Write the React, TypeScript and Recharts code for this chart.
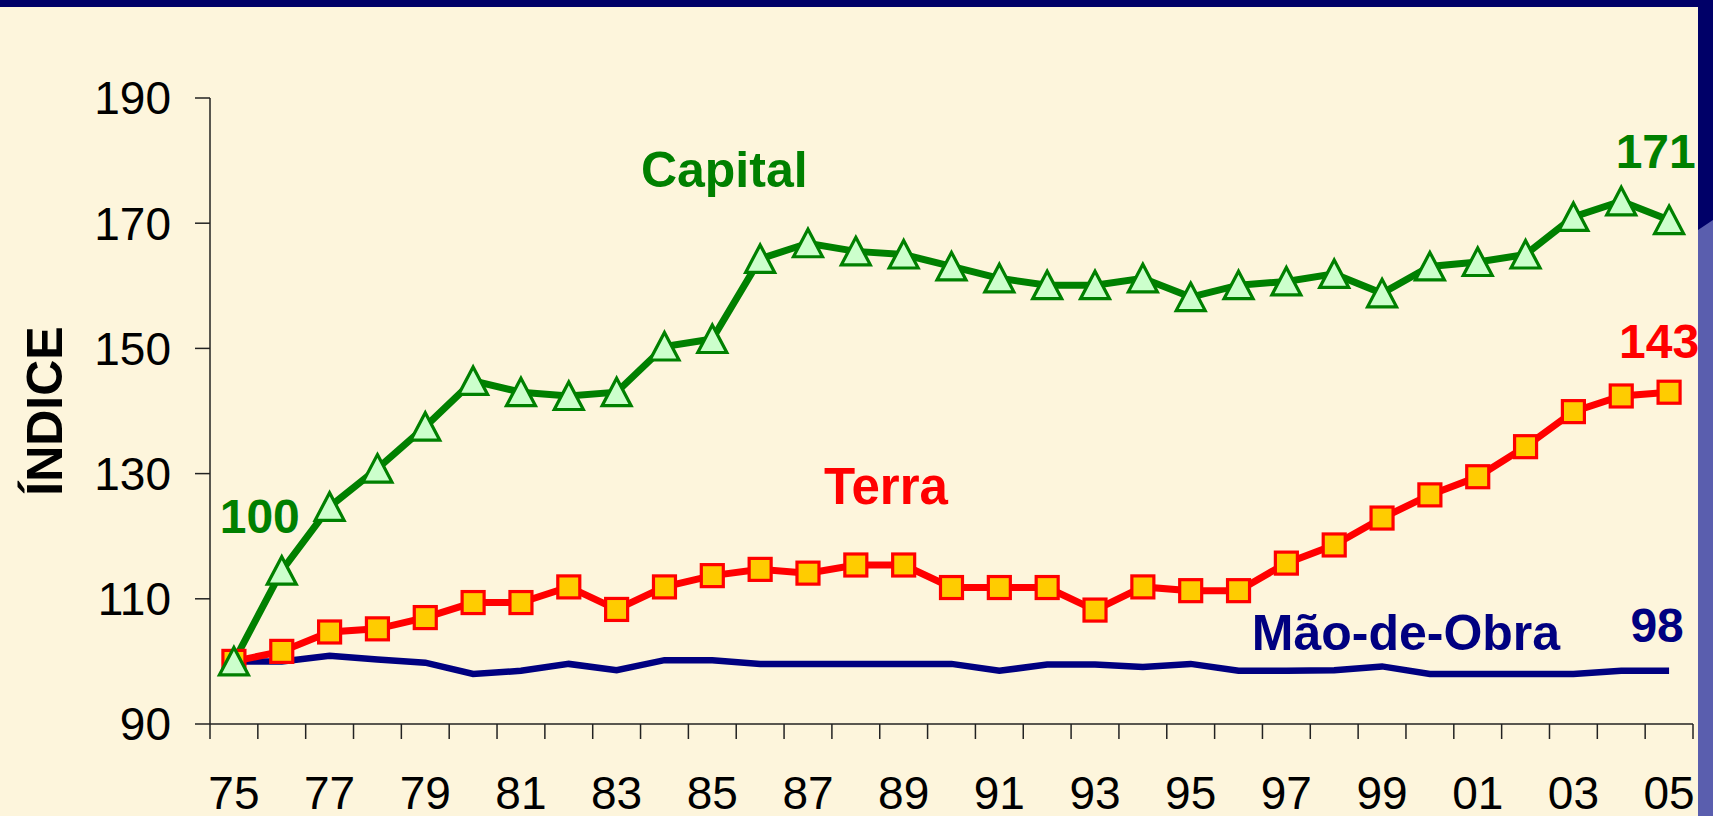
import React from 'react';
import { LineChart, Line, XAxis, YAxis, ReferenceDot } from 'recharts';

const years = ['75','76','77','78','79','80','81','82','83','84','85','86','87','88','89','90','91','92','93','94','95','96','97','98','99','00','01','02','03','04','05'];
const capital = [100, 114.5, 124.7, 130.8, 137.5, 144.8, 143.0, 142.4, 143.0, 150.3, 151.5, 164.3, 166.8, 165.5, 165.0, 163.1, 161.2, 160.1, 160.1, 161.2, 158.2, 160.1, 160.7, 161.9, 158.8, 163.1, 163.8, 165.0, 171.0, 173.5, 170.5];
const terra = [100, 101.6, 104.7, 105.2, 107.0, 109.4, 109.4, 111.9, 108.3, 111.9, 113.7, 114.7, 114.1, 115.4, 115.4, 111.8, 111.8, 111.8, 108.2, 111.9, 111.3, 111.3, 115.7, 118.6, 122.9, 126.6, 129.5, 134.3, 139.9, 142.4, 143.0];
const maoDeObra = [100, 100, 100.9, 100.3, 99.8, 98.0, 98.5, 99.6, 98.6, 100.2, 100.2, 99.6, 99.6, 99.6, 99.6, 99.6, 98.5, 99.5, 99.5, 99.1, 99.6, 98.5, 98.5, 98.6, 99.2, 98.0, 98.0, 98.0, 98.0, 98.5, 98.5];
const yTicks = [90, 110, 130, 150, 170, 190];
const labelTickIdx = [0, 2, 4, 6, 8, 10, 12, 14, 16, 18, 20, 22, 24, 26, 28, 30];
const boundaryTicks = years.map((_, i) => i - 0.5).concat([years.length - 0.5]);

// annotation anchors in data units (x = year index, y = index value at text baseline)
const annotations = [
  { text: 'Capital', x: 10.25, y: 175.8, color: '#008000', size: 50 },
  { text: 'Terra', x: 13.63, y: 125.1, color: '#FF0000', size: 51 },
  { text: 'Mão-de-Obra', x: 24.5, y: 101.8, color: '#000080', size: 50 },
  { text: '100', x: 0.54, y: 120.5, color: '#008000', size: 48 },
  { text: '171', x: 29.72, y: 178.8, color: '#008000', size: 48 },
  { text: '143', x: 29.79, y: 148.5, color: '#FF0000', size: 48 },
  { text: '98', x: 29.75, y: 103.1, color: '#000080', size: 48 },
];

const data = years.map((y, i) => ({ x: i, year: y, capital: capital[i], terra: terra[i], mao: maoDeObra[i] }));

const FONT = '"Liberation Sans", Arial, sans-serif';

const Triangle = (props: any) => {
  const { cx, cy, index } = props;
  if (cx == null || cy == null) return <g key={'t' + index} />;
  const pts = `${cx},${cy - 14} ${cx + 14.5},${cy + 13.5} ${cx - 14.5},${cy + 13.5}`;
  return <polygon key={'t' + index} points={pts} fill="#CCFFCC" stroke="#008000" strokeWidth={3.2} strokeLinejoin="miter" />;
};

const Square = (props: any) => {
  const { cx, cy, index } = props;
  if (cx == null || cy == null) return <g key={'s' + index} />;
  return <rect key={'s' + index} x={cx - 11} y={cy - 11} width={22} height={22} fill="#FFCC00" stroke="#FF0000" strokeWidth={3.2} />;
};

const makeLabel = (text: string, color: string, size: number) => (props: any) => {
  const vb = props.viewBox || {};
  const cx = (vb.x || 0) + (vb.width || 0) / 2;
  const cy = (vb.y || 0) + (vb.height || 0) / 2;
  return (
    <text x={cx} y={cy} textAnchor="middle" fill={color} fontFamily={FONT} fontWeight="bold" fontSize={size}>
      {text}
    </text>
  );
};

const YLabel = (props: any) => {
  const vb = props.viewBox || {};
  const x = (vb.x || 0) + 62;
  const y = (vb.y || 0) + (vb.height || 0) / 2;
  return (
    <text x={x} y={y} transform={`rotate(-90, ${x}, ${y})`} textAnchor="middle" fill="#000" fontFamily={FONT} fontWeight="bold" fontSize={50}>
      ÍNDICE
    </text>
  );
};

export default function App() {
  return (
    <div style={{ position: 'absolute', left: 0, top: 0, width: 1713, height: 816, background: '#FDF5DC', overflow: 'hidden' }}>
      <LineChart width={1713} height={816} data={data} margin={{ top: 98, right: 20, left: 0, bottom: 0 }}>
        <XAxis
          xAxisId={0}
          dataKey="x"
          type="number"
          domain={[-0.5, 30.5]}
          ticks={boundaryTicks}
          interval={0}
          height={15}
          tickSize={15}
          tickFormatter={() => ''}
          axisLine={{ stroke: '#222', strokeWidth: 1.5 }}
          tickLine={{ stroke: '#222', strokeWidth: 1.5 }}
        />
        <XAxis
          xAxisId="lbl"
          dataKey="x"
          type="number"
          domain={[-0.5, 30.5]}
          ticks={labelTickIdx}
          interval={0}
          height={77}
          tickSize={0}
          tickMargin={37}
          axisLine={false}
          tickLine={false}
          tickFormatter={(v: number) => years[v]}
          tick={{ fill: '#000', fontSize: 46, fontFamily: FONT }}
        />
        <YAxis
          type="number"
          domain={[90, 190]}
          ticks={yTicks}
          interval={0}
          width={210}
          tickSize={15}
          tickMargin={24}
          axisLine={{ stroke: '#222', strokeWidth: 1.5 }}
          tickLine={{ stroke: '#222', strokeWidth: 1.5 }}
          tick={{ fill: '#000', fontSize: 46, fontFamily: FONT }}
          label={{ content: YLabel }}
        />
        <Line type="linear" dataKey="mao" stroke="#000080" strokeWidth={6.5} dot={false} isAnimationActive={false} />
        <Line type="linear" dataKey="terra" stroke="#FF0000" strokeWidth={7} dot={Square} isAnimationActive={false} />
        <Line type="linear" dataKey="capital" stroke="#008000" strokeWidth={7} dot={Triangle} isAnimationActive={false} />
        {annotations.map((a) => (
          <ReferenceDot key={a.text} x={a.x} y={a.y} r={1} fill="none" stroke="none" label={{ content: makeLabel(a.text, a.color, a.size) }} />
        ))}
      </LineChart>
      <div style={{ position: 'absolute', left: 0, top: 0, width: 1713, height: 7, background: '#000068' }} />
      <svg style={{ position: 'absolute', left: 1698, top: 0 }} width={15} height={816}>
        <rect x={0} y={0} width={15} height={816} fill="#000068" />
        <polygon points="0,230 15,220 15,816 0,816" fill="#5A5EAE" />
      </svg>
    </div>
  );
}
